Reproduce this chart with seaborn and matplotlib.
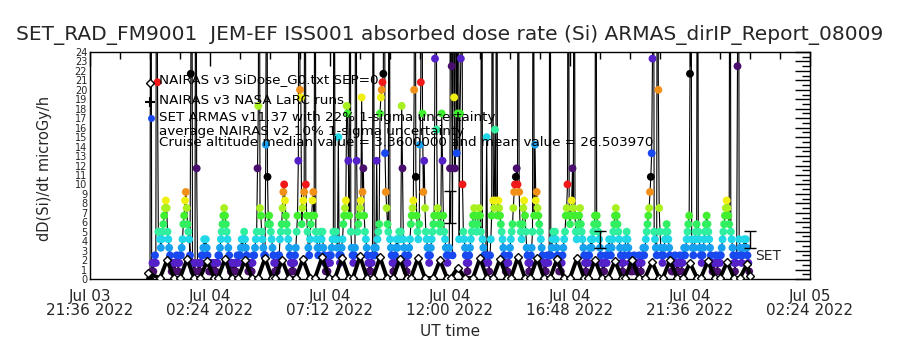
import numpy as np
import pandas as pd
import matplotlib
matplotlib.use("Agg")
import matplotlib.pyplot as plt
import matplotlib.dates as mdates
import seaborn as sns

# ---------------- data ----------------
TITLE = "SET_RAD_FM9001  JEM-EF ISS001 absorbed dose rate (Si) ARMAS_dirIP_Report_08009"
Y_LABEL = "dD(Si)/dt microGy/h"
X_LABEL = "UT time"
legend_texts = [
    "NAIRAS v3 SiDose_G0.txt SEP=0",
    "NAIRAS v3 NASA LaRC runs",
    "SET ARMAS v11.37 with 22% 1-sigma uncertainty",
    "average NAIRAS v2 10% 1-sigma uncertainty",
    "Cruise altitude median value = 3.3600000 and mean value = 26.503970",
]
x_tick_times = ["2022-07-03 21:36", "2022-07-04 02:24", "2022-07-04 07:12",
                "2022-07-04 12:00", "2022-07-04 16:48", "2022-07-04 21:36",
                "2022-07-05 02:24"]
y_ticks = list(range(0, 25))

# SET ARMAS dose rate, one sample every 2 minutes from 2022-07-04 00:00
set_start = "2022-07-04 00:00"
set_dose = [
    0.0, 60, 0.8, 1.7, 0.8, 1.7, 2.5, 1.7, 60, 20.8, 5.0, 5.0, 4.2, 3.3, 4.2, 5.0, 5.8, 6.7, 7.5, 8.3, 7.5, 5.0, 4.2, 3.3,
    2.5, 1.7, 0.8, 1.7, 0.8, 1.7, 0.8, 1.7, 2.5, 1.7, 0.8, 1.7, 2.5, 2.5, 3.3, 4.2, 5.8, 6.7, 8.3, 9.2, 7.5, 5.8, 5.0, 4.2,
    2.5, 21.7, 60, 1.7, 0.8, 1.7, 0.8, 60, 11.7, 1.7, 0.8, 1.7, 0.8, 1.7, 2.5, 2.5, 3.3, 4.2, 3.3, 4.2, 3.3, 2.5, 1.7, 0.8,
    1.7, 0.8, 1.7, 0.8, 1.7, 0.8, 1.7, 0.8, 1.7, 1.7, 2.5, 2.5, 3.3, 4.2, 5.0, 5.8, 6.7, 7.5, 6.7, 5.8, 5.0, 4.2, 3.3, 2.5,
    1.7, 0.8, 1.7, 0.8, 1.7, 0.8, 1.7, 0.8, 1.7, 2.5, 1.7, 2.5, 2.5, 3.3, 4.2, 3.3, 4.2, 5.0, 4.2, 3.3, 2.5, 1.7, 0.8, 1.7,
    0.8, 1.7, 0.8, 1.7, 2.5, 2.5, 3.3, 4.2, 5.0, 11.7, 18.3, 60, 7.5, 6.7, 5.0, 4.2, 3.3, 2.5, 2.5, 14.2, 60, 10.8, 5.8, 6.7,
    5.8, 5.0, 4.2, 3.3, 2.5, 1.7, 0.8, 1.7, 0.8, 1.7, 2.5, 2.5, 4.2, 5.0, 5.8, 7.5, 9.2, 10.0, 8.3, 6.7, 5.8, 5.0, 4.2, 3.3,
    2.5, 1.7, 0.8, 1.7, 0.8, 1.7, 2.5, 3.3, 5.0, 6.7, 12.5, 60, 20.0, 19.2, 5.8, 7.5, 8.3, 9.2, 60, 10.0, 6.7, 5.0, 3.3, 2.5,
    4.2, 5.8, 6.7, 8.3, 9.2, 6.7, 60, 5.0, 4.2, 3.3, 2.5, 3.3, 4.2, 5.0, 4.2, 5.0, 3.3, 2.5, 1.7, 0.8, 1.7, 0.8, 1.7, 2.5,
    1.7, 2.5, 3.3, 4.2, 5.0, 60, 4.2, 5.0, 4.2, 3.3, 15.0, 2.5, 1.7, 2.5, 3.3, 4.2, 5.8, 6.7, 7.5, 8.3, 18.3, 17.5, 12.5, 6.7,
    60, 5.0, 3.3, 2.5, 1.7, 2.5, 3.3, 60, 12.5, 5.0, 5.8, 6.7, 7.5, 8.3, 19.2, 9.2, 11.7, 6.7, 5.0, 4.2, 3.3, 2.5, 1.7, 0.8,
    1.7, 0.8, 1.7, 2.5, 60, 3.3, 2.5, 3.3, 12.5, 4.2, 5.0, 5.8, 17.5, 19.2, 20.0, 20.8, 21.7, 60, 13.3, 9.2, 7.5, 5.8, 5.0, 60,
    4.2, 3.3, 2.5, 1.7, 0.8, 1.7, 2.5, 3.3, 4.2, 3.3, 4.2, 5.0, 4.2, 5.0, 18.3, 11.7, 4.2, 3.3, 2.5, 1.7, 0.8, 1.7, 2.5, 3.3,
    4.2, 5.8, 6.7, 7.5, 8.3, 20.0, 60, 10.8, 6.7, 5.0, 4.2, 5.8, 14.2, 20.8, 60, 17.5, 9.2, 12.5, 7.5, 5.0, 4.2, 3.3, 2.5, 1.7,
    2.5, 3.3, 4.2, 5.0, 5.8, 6.7, 23.3, 60, 15.8, 7.5, 6.7, 5.8, 5.0, 5.8, 17.5, 12.5, 6.7, 5.0, 4.2, 3.3, 2.5, 1.7, 2.5, 3.3,
    11.7, 60, 22.5, 2.5, 60, 19.2, 11.7, 60, 13.3, 17.5, 60, 4.2, 17.5, 23.3, 60, 10.0, 5.0, 4.2, 3.3, 2.5, 1.7, 0.8, 1.7, 2.5,
    3.3, 4.2, 5.0, 5.8, 6.7, 7.5, 6.7, 5.8, 5.0, 5.8, 6.7, 7.5, 6.7, 5.0, 60, 4.2, 3.3, 2.5, 1.7, 2.5, 15.0, 2.5, 1.7, 0.8,
    2.5, 4.2, 6.7, 60, 8.3, 7.5, 15.8, 8.3, 60, 6.7, 8.3, 7.5, 6.7, 5.8, 5.0, 4.2, 3.3, 2.5, 1.7, 0.8, 1.7, 0.8, 1.7, 2.5,
    3.3, 4.2, 5.0, 5.8, 7.5, 9.2, 10.0, 10.8, 11.7, 10.0, 60, 9.2, 5.8, 5.0, 4.2, 5.8, 7.5, 8.3, 6.7, 5.0, 3.3, 2.5, 1.7, 0.8,
    1.7, 2.5, 3.3, 5.0, 60, 6.7, 14.2, 8.3, 9.2, 7.5, 6.7, 5.8, 5.0, 4.2, 3.3, 2.5, 1.7, 0.8, 1.7, 0.8, 1.7, 2.5, 1.7, 2.5,
    60, 2.5, 3.3, 4.2, 5.0, 4.2, 5.0, 4.2, 3.3, 2.5, 1.7, 0.8, 1.7, 0.8, 1.7, 2.5, 3.3, 4.2, 5.0, 6.7, 7.5, 10.0, 60, 6.7,
    5.8, 6.7, 8.3, 11.7, 7.5, 60, 6.7, 5.0, 4.2, 5.0, 5.8, 6.7, 7.5, 5.8, 5.0, 4.2, 3.3, 2.5, 1.7, 0.8, 1.7, 2.5, 1.7, 2.5,
    3.3, 4.2, 3.3, 4.2, 5.0, 5.8, 6.7, 60, 6.7, 5.8, 5.0, 4.2, 3.3, 2.5, 1.7, 0.8, 1.7, 0.8, 1.7, 2.5, 1.7, 2.5, 3.3, 4.2,
    3.3, 2.5, 3.3, 4.2, 5.0, 5.8, 6.7, 7.5, 6.7, 5.8, 5.0, 4.2, 3.3, 2.5, 1.7, 0.8, 1.7, 2.5, 3.3, 4.2, 5.0, 4.2, 3.3, 2.5,
    1.7, 0.8, 1.7, 0.8, 1.7, 2.5, 1.7, 0.8, 1.7, 0.8, 1.7, 2.5, 1.7, 0.8, 1.7, 2.5, 3.3, 2.5, 3.3, 4.2, 5.0, 5.8, 6.7, 7.5,
    9.2, 10.8, 13.3, 23.3, 60, 5.0, 4.2, 3.3, 2.5, 60, 20.0, 7.5, 5.0, 3.3, 2.5, 1.7, 2.5, 3.3, 4.2, 5.0, 5.8, 5.0, 4.2, 3.3,
    2.5, 1.7, 0.8, 1.7, 0.8, 1.7, 2.5, 1.7, 0.8, 1.7, 0.8, 1.7, 2.5, 1.7, 0.8, 1.7, 2.5, 3.3, 2.5, 3.3, 4.2, 5.0, 5.8, 6.7,
    21.7, 60, 4.2, 3.3, 2.5, 3.3, 4.2, 5.0, 5.8, 60, 5.0, 4.2, 3.3, 2.5, 1.7, 2.5, 3.3, 4.2, 5.0, 5.8, 6.7, 5.8, 5.0, 4.2,
    3.3, 2.5, 1.7, 0.8, 1.7, 0.8, 1.7, 2.5, 1.7, 0.8, 1.7, 2.5, 1.7, 2.5, 3.3, 4.2, 5.0, 5.8, 6.7, 7.5, 8.3, 7.5, 6.7, 5.8,
    60, 5.0, 4.2, 3.3, 2.5, 1.7, 0.8, 1.7, 2.5, 22.5, 60, 4.2, 3.3, 2.5, 1.7, 2.5, 3.3, 4.2, 3.3, 4.2, 3.3, 2.5, 1.7, 0.8,
]

# NAIRAS model (minutes after 2022-07-04 00:00, dose rate)
nairas_min = [-5,
              24, 41, 58, 72, 89, 106, 120, 137, 154, 163, 180, 197,
              211, 228, 245, 259, 276, 293, 300, 317, 334, 350, 367, 384,
              396, 413, 430, 444, 461, 478, 487, 504, 521, 535, 552, 569,
              583, 600, 617, 626, 643, 660, 679, 696, 713, 722, 739, 756,
              775, 792, 809, 823, 840, 857, 866, 883, 900, 912, 929, 946,
              960, 977, 994, 1008, 1025, 1042, 1051, 1068, 1085, 1099, 1116, 1133,
              1140, 1157, 1174, 1188, 1205, 1222, 1231, 1248, 1265, 1279, 1296, 1313,
              1322, 1339, 1356, 1368, 1385, 1402, 1416, 1433, 1440]
nairas_dose = [0.6,
               0.1, 2.0, 0.1, 0.1, 2.1, 0.1, 0.1, 1.9, 0.1, 0.1, 2.1, 0.1,
               0.1, 2.0, 0.1, 0.1, 2.2, 0.1, 0.1, 2.0, 0.1, 0.1, 2.1, 0.1,
               0.1, 2.3, 0.1, 0.1, 2.2, 0.1, 0.1, 2.4, 0.1, 0.1, 2.3, 0.1,
               0.1, 2.1, 0.1, 0.1, 2.2, 0.1, 0.1, 2.0, 0.1, 0.1, 1.2, 0.1,
               0.1, 2.2, 0.1, 0.1, 2.1, 0.1, 0.1, 2.3, 0.1, 0.1, 2.2, 0.1,
               0.1, 2.1, 0.1, 0.1, 2.2, 0.1, 0.1, 2.0, 0.1, 0.1, 1.9, 0.1,
               0.1, 2.0, 0.1, 0.1, 1.8, 0.1, 0.1, 2.0, 0.1, 0.1, 1.7, 0.1,
               0.1, 1.9, 0.1, 0.1, 1.8, 0.1, 0.1, 1.6, 0.3]

# SET uncertainty bars (22% 1-sigma)
err_min = [720, 1080, 1440]
err_dose = [7.6, 4.2, 4.2]
err_frac = 0.22

# ---------------- style ----------------
LEVEL_STEP = 0.8333
PALETTE = ["#000000", "#4a0f6e", "#5420c8", "#1848f0", "#18a0f0", "#20d8e8",
           "#30f0a0", "#30f060", "#40f030", "#a8f020", "#f0f010", "#f09018",
           "#f01818"]

sns.set_theme(style="white")
plt.rcParams["font.family"] = ["DejaVu Sans"]

fig = plt.figure(figsize=(9, 3.5), dpi=100)
ax = fig.add_axes([90 / 900, 1 - 279 / 350, 720 / 900, 227 / 350])

t0 = pd.Timestamp(set_start)
df = pd.DataFrame({
    "time": pd.date_range(set_start, periods=len(set_dose), freq="2min"),
    "dose": set_dose,
})
df["cidx"] = (np.round(df["dose"] / LEVEL_STEP).astype(int) % len(PALETTE))

sns.lineplot(data=df, x="time", y="dose", sort=False, color="black",
             linewidth=0.8, ax=ax, zorder=2)
sns.scatterplot(data=df, x="time", y="dose", hue="cidx",
                palette=dict(enumerate(PALETTE)), s=32, linewidth=0,
                legend=False, ax=ax, zorder=3)

nd = pd.DataFrame({
    "time": t0 + pd.to_timedelta(nairas_min, unit="min"),
    "dose": nairas_dose,
})
sns.lineplot(data=nd, x="time", y="dose", sort=False, color="black",
             linewidth=2.8, marker="D", markersize=4,
             markerfacecolor="white", markeredgecolor="black",
             markeredgewidth=1, ax=ax, zorder=4)

et = t0 + pd.to_timedelta(err_min, unit="min")
ax.errorbar(et, err_dose, yerr=np.array(err_dose) * err_frac, fmt="none",
            ecolor="black", elinewidth=1, capsize=4, capthick=1, zorder=5)

# axes
ax.set_xlim(pd.Timestamp(x_tick_times[0]), pd.Timestamp(x_tick_times[-1]))
ax.set_ylim(0, 24)
ax.set_xticks(pd.to_datetime(x_tick_times))
ax.set_xticks(pd.date_range(x_tick_times[0], x_tick_times[-1], freq="72min"),
              minor=True)
ax.xaxis.set_major_formatter(mdates.DateFormatter("%b %d\n%H:%M %Y"))
ax.set_yticks(y_ticks)
ax.set_yticks(np.arange(0, 24.01, 0.5), minor=True)
ax.set_yticklabels([str(v) for v in y_ticks])
ax.tick_params(axis="both", which="both", direction="in", top=True,
               right=True, color="black")
ax.tick_params(axis="x", which="major", length=10, width=1, labelsize=11,
               pad=7)
ax.tick_params(axis="x", which="minor", length=5, width=1)
ax.tick_params(axis="y", which="major", length=11, width=1, labelsize=7,
               pad=2)
ax.tick_params(axis="y", which="minor", length=6, width=1)
for lab in ax.get_xticklabels():
    lab.set_linespacing(0.95)
for sp in ax.spines.values():
    sp.set_color("black")
    sp.set_linewidth(1)
ax.set_xlabel("")
ax.set_ylabel("")

# texts
fig.text(0.5, 1 - 35 / 350, TITLE, ha="center", va="center", fontsize=14.5)
fig.text(0.5, 1 - 331 / 350, X_LABEL, ha="center", va="center", fontsize=11)
fig.text(45 / 900, 1 - 168 / 350, Y_LABEL, ha="center", va="center",
         rotation=90, fontsize=10.5)

leg_y = [80, 100, 118, 132, 142]
for txt, yy in zip(legend_texts, leg_y):
    ax.text((159 - 90) / 720, (279 - yy) / 227, txt, transform=ax.transAxes,
            ha="left", va="center", fontsize=9.7, color="black", zorder=6)
ax.plot([(150 - 90) / 720], [(279 - 83) / 227], transform=ax.transAxes,
        marker="D", markersize=4.5, markerfacecolor="white",
        markeredgecolor="black", clip_on=False, zorder=6)
ax.plot([(150 - 90) / 720], [(279 - 102) / 227], transform=ax.transAxes,
        marker="+", markersize=7, color="black", mew=1.5, clip_on=False,
        zorder=6)
ax.plot([(151 - 90) / 720], [(279 - 118) / 227], transform=ax.transAxes,
        marker="o", markersize=5, color=PALETTE[3], mew=0, clip_on=False,
        zorder=6)
ax.text((755 - 90) / 720, (279 - 256) / 227, "SET", transform=ax.transAxes,
        ha="left", va="center", fontsize=10, zorder=6)

fig.savefig("out.png", dpi=100)
